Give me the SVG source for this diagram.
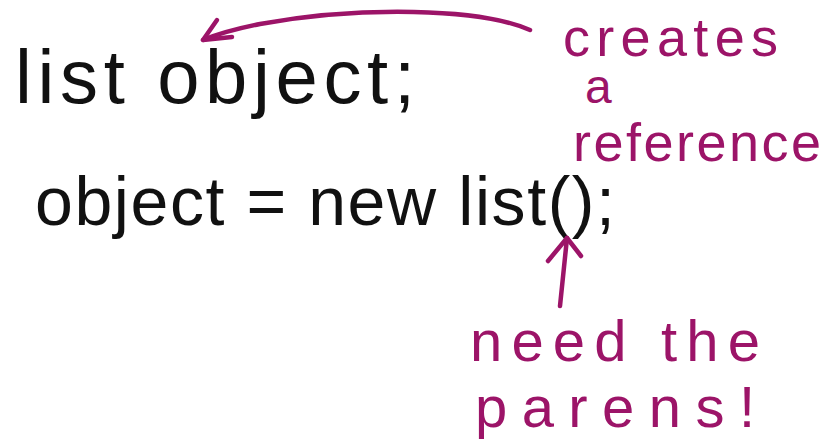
<svg xmlns="http://www.w3.org/2000/svg" width="840" height="445" viewBox="0 0 840 445">
<defs>
<style>
.ink{font-family:"Liberation Sans","DejaVu Sans",sans-serif;fill:#111;}
.note{font-family:"Liberation Sans","DejaVu Sans",sans-serif;fill:#9c1468;}
.arrow{fill:none;stroke:#9c1468;stroke-width:4.5;stroke-linecap:round;stroke-linejoin:round;}
</style>
</defs>
<rect width="840" height="445" fill="#ffffff"/>
<g id="code">
<text class="ink" x="15" y="103" font-size="76" textLength="400" lengthAdjust="spacing">list object;</text>
<text class="ink" x="35" y="225" font-size="68" textLength="580" lengthAdjust="spacing">object = new list();</text>
</g>
<g id="note-reference">
<text class="note" x="563" y="56" font-size="54" textLength="215" lengthAdjust="spacing">creates</text>
<text class="note" x="585" y="103" font-size="48">a</text>
<text class="note" x="573" y="161" font-size="54" textLength="248" lengthAdjust="spacing">reference</text>
</g>
<g id="note-parens">
<text class="note" x="470" y="361" font-size="58" textLength="290" lengthAdjust="spacing">need the</text>
<text class="note" x="475" y="427" font-size="58" textLength="280" lengthAdjust="spacing">parens!</text>
</g>
<g id="connectors">
<path class="arrow" d="M530,30 C480,8 360,6 260,24 C235,29 215,35 203,40"/>
<path class="arrow" d="M217,20 L203,40 L232,37"/>
<path class="arrow" d="M560,306 L567,238"/>
<path class="arrow" d="M548,261 L567,238 L581,256"/>
</g>
</svg>
